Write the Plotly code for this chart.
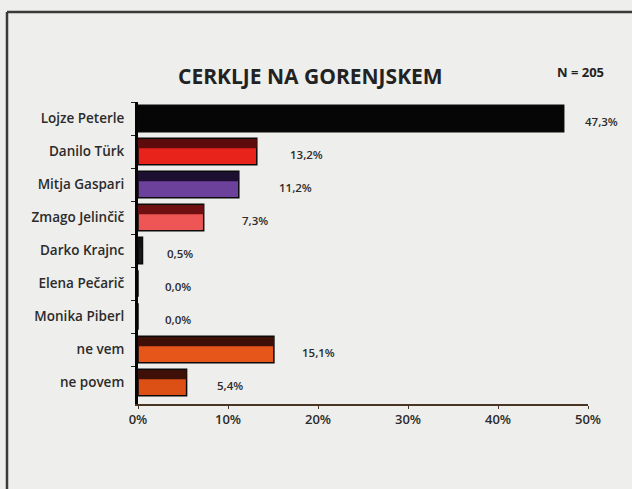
import plotly.graph_objects as go

categories = ["Lojze Peterle", "Danilo Türk", "Mitja Gaspari", "Zmago Jelinčič",
              "Darko Krajnc", "Elena Pečarič", "Monika Piberl", "ne vem", "ne povem"]
values = [47.3, 13.2, 11.2, 7.3, 0.5, 0.0, 0.0, 15.1, 5.4]
value_labels = ["47,3%", "13,2%", "11,2%", "7,3%", "0,5%", "0,0%", "0,0%", "15,1%", "5,4%"]
x_ticks = [0, 10, 20, 30, 40, 50]
x_tick_labels = ["0%", "10%", "20%", "30%", "40%", "50%"]
title_text = "CERKLJE NA GORENJSKEM"
sample_text = "N = 205"

# styles
bright_colors = ["#060606", "#e8231b", "#6c419c", "#ee5656", "#1a1a1a",
                 "#1a1a1a", "#1a1a1a", "#e6561a", "#dc5016"]
dark_colors = ["#060606", "#5e0b0b", "#1d0f30", "#6e1012", "#111111",
               "#111111", "#111111", "#3e0f06", "#3e0f06"]
label_shift = [19, 31, 38, 36, 22, 25, 25, 26, 28]

BG = "#eeeeec"
FONT = "Open Sans"
TXT = "#2b2b2b"

fig = go.Figure()
fig.add_trace(go.Bar(
    y=categories, x=values, orientation="h",
    width=0.8, offset=-0.4,
    marker=dict(color=bright_colors, line=dict(color="#0a0a0a", width=1.5)),
    hoverinfo="skip", showlegend=False,
))
fig.add_trace(go.Bar(
    y=categories, x=values, orientation="h",
    width=0.28, offset=-0.38,
    marker=dict(color=dark_colors, line=dict(width=0)),
    hoverinfo="skip", showlegend=False,
))

annotations = []
for c, v, t, s in zip(categories, values, value_labels, label_shift):
    annotations.append(dict(x=v, y=c, xref="x", yref="y", text=t, showarrow=False,
                            xanchor="left", yanchor="middle", xshift=s, yshift=-3,
                            font=dict(family=FONT, size=11.5, color=TXT, weight=600)))
annotations.append(dict(x=(310 - 138) / 450, y=(404 - 76) / 302, xref="paper", yref="paper",
                        text=f"<b>{title_text}</b>", showarrow=False,
                        xanchor="center", yanchor="middle",
                        font=dict(family=FONT, size=21, color="#222222")))
annotations.append(dict(x=(606 - 138) / 450, y=(404 - 72) / 302, xref="paper", yref="paper",
                        text=f"<b>{sample_text}</b>", showarrow=False,
                        xanchor="right", yanchor="middle",
                        font=dict(family=FONT, size=13, color="#222222")))

shapes = [
    dict(type="line", xref="paper", yref="paper",
         x0=(7 - 138) / 450, x1=(7 - 138) / 450, y0=(404 - 12) / 302, y1=(404 - 495) / 302,
         line=dict(color="#3a3a3a", width=2.5)),
    dict(type="line", xref="paper", yref="paper",
         x0=(7 - 138) / 450, x1=(640 - 138) / 450, y0=(404 - 12) / 302, y1=(404 - 12) / 302,
         line=dict(color="#3a3a3a", width=2.5)),
]

fig.update_layout(
    width=632, height=489,
    margin=dict(l=138, r=44, t=102, b=85),
    paper_bgcolor=BG, plot_bgcolor=BG,
    barmode="overlay",
    annotations=annotations,
    shapes=shapes,
    font=dict(family=FONT, color=TXT),
)
fig.update_xaxes(
    range=[0, 50], tickvals=x_ticks, ticktext=x_tick_labels,
    showgrid=False, zeroline=False,
    showline=True, linecolor="#4a3426", linewidth=1.5,
    ticks="outside", ticklen=3, tickcolor="#4a3426",
    tickfont=dict(family=FONT, size=13, color=TXT, weight=600),
)
fig.update_yaxes(
    range=[8.65, -0.5], showgrid=False, zeroline=False,
    showline=True, linecolor="#050505", linewidth=3,
    ticks="outside", ticklen=4, tickcolor="#222222", tickson="boundaries",
    tickfont=dict(family=FONT, size=13.5, color=TXT, weight=600),
    ticklabelstandoff=8,
)

fig.write_html("out.html",
               config={"displayModeBar": False, "staticPlot": True},
               post_script="document.body.style.margin='0';document.body.style.background='#eeeeec';")
